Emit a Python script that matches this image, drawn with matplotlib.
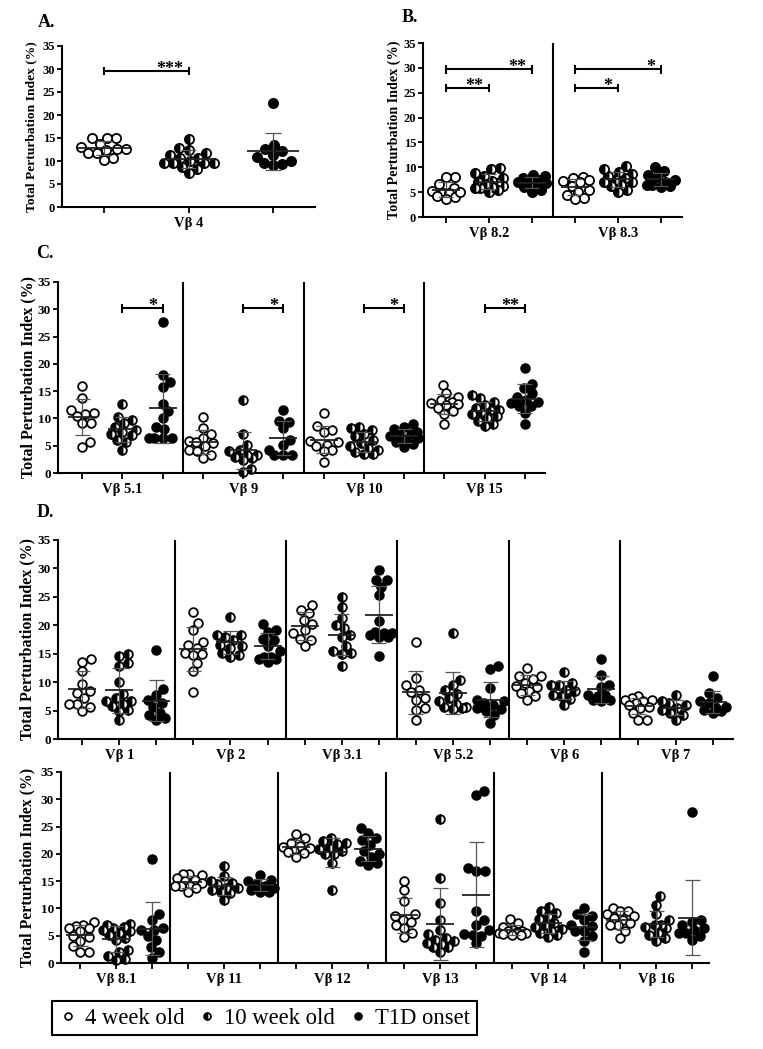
import numpy as np
import matplotlib
matplotlib.use('Agg')
import matplotlib.pyplot as plt
from matplotlib.lines import Line2D

plt.rcParams['font.family'] = ['Liberation Serif', 'DejaVu Serif']

# ---------------- data ----------------
groups = ['4 week old', '10 week old', 'T1D onset']
ylabel = 'Total Perturbation Index (%)'
yticks = [0, 5, 10, 15, 20, 25, 30, 35]

A_labels = ['Vβ 4']
A_wk4 = [[15.0, 14.9, 14.9, 13.7, 13.0, 12.6, 12.3, 12.6, 11.7, 11.8, 10.7, 10.3]]
A_wk10 = [[14.8, 12.8, 12.5, 11.8, 11.4, 10.7, 10.6, 9.9, 9.5, 9.5, 9.5, 9.5, 8.8, 8.3, 7.4]]
A_t1d = [[22.6, 13.5, 12.6, 12.1, 11.4, 10.9, 10.0, 9.5, 9.3, 9.2]]
A_sig = [(0, 1, 29.5, '***')]

B_labels = ['Vβ 8.2', 'Vβ 8.3']
B_wk4 = [[8.1, 8.0, 6.6, 5.8, 5.2, 4.9, 4.8, 4.3, 4.1, 3.7, 5.0],
         [8.1, 7.8, 7.5, 7.2, 7.0, 6.3, 5.5, 5.0, 4.5, 3.9, 3.6]]
B_wk10 = [[9.9, 9.6, 8.8, 8.3, 7.8, 7.3, 7.0, 6.8, 6.6, 6.2, 5.8, 5.4, 5.0, 6.0, 5.8],
          [10.2, 9.6, 9.0, 8.7, 8.3, 7.9, 7.5, 7.0, 6.5, 6.2, 5.5, 5.0, 7.0]]
B_t1d = [[8.5, 8.2, 7.8, 7.5, 7.2, 7.0, 6.8, 6.3, 6.0, 5.5, 5.0],
         [10.0, 9.3, 8.5, 8.0, 7.5, 7.0, 6.5, 6.5, 6.2, 6.0]]
B_sig = [(0, 1, 26.0, '**'), (0, 2, 29.7, '**'), (3, 4, 26.0, '*'), (3, 5, 29.7, '*')]

C_labels = ['Vβ 5.1', 'Vβ 9', 'Vβ 10', 'Vβ 15']
C_wk4 = [[15.9, 13.8, 11.6, 11.0, 10.9, 10.4, 9.2, 9.1, 5.7, 4.8],
         [10.3, 8.2, 7.1, 6.4, 5.8, 5.6, 5.5, 4.9, 4.3, 4.0, 3.3, 2.7],
         [11.0, 8.7, 7.8, 7.6, 5.9, 5.6, 5.2, 4.9, 4.3, 4.0, 2.1],
         [16.1, 14.6, 14.0, 13.3, 13.0, 12.8, 12.6, 12.4, 12.0, 11.4, 10.8, 8.9]]
C_wk10 = [[12.6, 10.3, 9.8, 9.1, 8.5, 7.9, 7.5, 7.2, 6.9, 6.1, 5.7, 4.2],
          [13.4, 7.1, 5.2, 4.3, 4.0, 3.3, 3.3, 3.0, 2.7, 2.4, 0.7, 0.1],
          [8.5, 8.2, 7.8, 7.2, 6.8, 6.0, 5.5, 5.0, 4.6, 4.2, 3.8, 3.5, 3.4],
          [14.3, 13.8, 13.0, 12.4, 12.0, 11.6, 11.5, 11.2, 10.9, 10.5, 10.0, 9.6, 9.0, 8.6]]
C_t1d = [[27.6, 18.0, 16.6, 15.8, 12.6, 11.3, 10.0, 8.5, 8.0, 6.4, 6.4, 6.4, 6.4],
         [11.6, 9.6, 9.4, 8.2, 6.1, 5.1, 4.3, 3.3, 3.3, 3.3],
         [8.9, 8.5, 8.0, 7.6, 7.2, 7.0, 6.8, 6.4, 6.0, 5.6, 5.3, 4.8],
         [19.2, 16.3, 15.5, 14.6, 14.0, 13.4, 13.1, 12.8, 12.3, 12.2, 11.0, 8.9]]
C_sig = [(1, 2, 30.2, '*'), (4, 5, 30.2, '*'), (7, 8, 30.2, '*'), (10, 11, 30.2, '**')]

D1_labels = ['Vβ 1', 'Vβ 2', 'Vβ 3.1', 'Vβ 5.2', 'Vβ 6', 'Vβ 7']
D1_wk4 = [[14.0, 13.6, 11.9, 9.7, 8.4, 8.1, 7.2, 6.2, 6.2, 5.7, 4.9],
          [22.4, 20.4, 19.1, 17.1, 16.6, 16.0, 15.1, 14.9, 14.7, 13.3, 11.9, 8.2],
          [23.6, 22.7, 22.1, 20.9, 20.2, 19.2, 18.6, 17.6, 17.4, 16.3],
          [17.0, 10.7, 9.5, 8.7, 8.2, 7.2, 6.9, 5.4, 5.1, 3.4],
          [12.5, 11.0, 11.0, 10.5, 9.8, 9.4, 9.2, 8.4, 8.1, 7.5, 6.9],
          [7.5, 7.2, 6.9, 6.8, 6.6, 6.3, 6.0, 5.7, 5.4, 4.6, 3.4, 3.4]]
D1_wk10 = [[15.0, 14.6, 13.3, 12.9, 10.1, 8.0, 7.2, 6.6, 6.6, 6.2, 5.8, 5.1, 4.9, 3.3],
           [21.4, 18.3, 18.3, 18.0, 17.5, 16.6, 16.3, 16.0, 15.1, 14.8, 14.4],
           [24.9, 23.3, 21.2, 20.1, 19.5, 18.3, 18.0, 16.3, 15.4, 15.1, 15.0, 12.8],
           [18.7, 10.4, 9.5, 8.6, 8.0, 7.2, 6.6, 6.2, 5.7, 5.6, 5.4, 5.2],
           [11.7, 9.9, 9.5, 9.5, 8.7, 8.4, 7.8, 7.5, 7.1, 5.9],
           [7.8, 6.6, 6.3, 5.9, 5.5, 5.1, 4.6, 4.3, 3.4]]
D1_t1d = [[15.6, 8.8, 7.8, 6.9, 6.3, 5.7, 4.6, 4.3, 3.7, 3.4],
          [20.2, 19.2, 18.9, 17.6, 17.4, 16.3, 15.4, 14.5, 14.5, 14.0, 14.0, 13.6],
          [29.8, 28.0, 28.0, 26.8, 25.3, 20.7, 18.9, 18.6, 18.6, 18.3, 18.0, 18.0, 14.6],
          [12.9, 12.3, 9.0, 6.9, 6.6, 6.3, 5.9, 5.4, 5.3, 4.9, 4.3, 2.9],
          [14.0, 11.3, 9.5, 9.2, 7.8, 7.8, 7.5, 6.9, 6.9, 6.6],
          [11.1, 8.1, 7.2, 6.6, 6.3, 5.7, 5.4, 5.1, 4.9, 4.6]]

D2_labels = ['Vβ 8.1', 'Vβ 11', 'Vβ 12', 'Vβ 13', 'Vβ 14', 'Vβ 16']
D2_wk4 = [[7.6, 7.0, 6.8, 6.4, 6.4, 5.9, 4.9, 4.7, 4.0, 3.1, 2.1, 2.1],
          [16.3, 16.2, 16.3, 15.6, 15.3, 15.1, 14.6, 14.2, 14.1, 14.1, 13.7, 13.1],
          [23.6, 22.9, 22.0, 21.5, 21.3, 21.0, 20.5, 20.3, 20.2, 19.5],
          [15.0, 13.3, 11.4, 8.9, 8.7, 7.9, 7.5, 7.0, 6.4, 5.5, 4.7],
          [8.0, 7.4, 6.6, 6.1, 5.9, 5.8, 5.6, 5.5, 5.5, 5.3, 5.2, 5.2],
          [10.1, 9.5, 9.5, 9.0, 8.6, 8.2, 7.9, 7.3, 6.9, 6.9, 5.9, 4.6]]
D2_wk10 = [[7.1, 6.9, 6.6, 6.4, 6.0, 5.8, 5.5, 5.2, 4.6, 4.3, 2.4, 2.1, 1.2, 0.8, 0.6],
           [17.7, 15.9, 15.1, 14.7, 14.4, 13.7, 13.7, 13.4, 13.1, 12.8, 11.6],
           [22.9, 22.3, 22.0, 21.8, 21.1, 20.8, 20.5, 19.9, 19.9, 18.3, 13.4],
           [26.3, 15.6, 11.0, 7.9, 6.1, 5.3, 4.6, 4.2, 4.0, 3.7, 3.5, 3.0, 2.9, 2.1],
           [10.2, 9.6, 9.2, 8.6, 8.0, 7.4, 7.0, 6.6, 6.2, 5.8, 5.5, 5.2, 4.8],
           [12.2, 10.7, 8.9, 7.9, 7.0, 7.0, 6.6, 6.4, 5.5, 5.2, 4.6, 4.1]]
D2_t1d = [[19.1, 9.0, 7.9, 6.4, 6.1, 6.0, 4.9, 4.3, 2.9, 2.0, 0.9],
          [16.2, 15.3, 15.0, 14.4, 14.1, 13.8, 13.4, 13.1, 13.1],
          [24.7, 23.8, 22.9, 22.6, 21.7, 20.5, 19.9, 19.5, 18.6, 18.3, 18.0],
          [31.6, 30.8, 17.5, 16.9, 16.8, 9.5, 7.8, 7.0, 6.0, 5.3, 5.2, 5.0, 3.7],
          [10.1, 9.0, 8.6, 7.9, 7.0, 6.7, 5.8, 5.8, 4.9, 4.0, 2.0],
          [27.6, 7.9, 7.6, 7.0, 6.4, 6.0, 5.5, 5.5, 4.9, 4.3]]

# ---------------- layout ----------------
W, H, DPI = 763, 1049, 100
fig = plt.figure(figsize=(W / DPI, H / DPI), dpi=DPI)

MARKERS = [
    dict(marker='o', mfc='white', mec='black'),
    dict(marker='o', fillstyle='left', mfc='black', mfcalt='white', mec='black'),
    dict(marker='o', mfc='black', mec='black'),
]
MEW = 1.3


def swarm_offsets(ax, xc, vals, diam_px, maxw_px):
    vals = np.asarray(vals, float)
    pts = ax.transData.transform(np.column_stack([np.full(vals.size, xc), vals]))
    ypx = pts[:, 1]
    unit = ax.transData.transform((1, 0))[0] - ax.transData.transform((0, 0))[0]
    dmin = diam_px * 0.85
    order = np.argsort(ypx)
    px_list, py_list = [], []
    out = np.zeros(vals.size)
    for i in order:
        y = ypx[i]
        cands = [0.0]
        for a, b in zip(px_list, py_list):
            dy = abs(y - b)
            if dy < dmin:
                dx = np.sqrt(dmin ** 2 - dy ** 2)
                cands += [a + dx, a - dx]
        cands = sorted(cands, key=abs)
        chosen = None
        for c in cands:
            if abs(c) > maxw_px + 1e-9:
                continue
            if all((c - a) ** 2 + (y - b) ** 2 >= dmin ** 2 - 1e-6 for a, b in zip(px_list, py_list)):
                chosen = c
                break
        if chosen is None:
            grid = np.linspace(-maxw_px, maxw_px, 41)
            pa, pb = np.array(px_list), np.array(py_list)
            chosen = max(grid, key=lambda c: (round(float(np.min(np.hypot(c - pa, y - pb))), 1), -abs(c)))
        px_list.append(chosen)
        py_list.append(y)
        out[i] = chosen / unit
    return out


def panel(box, xlim, labels, g4, g10, gt, sig, diam=11, maxw=14, meanw=14, capw=7.5,
          tick_fs=9.5, cat_fs=10.5, ylab_x=28, ylab_fs=11):
    l, t, r, b = box
    ax = fig.add_axes([l / W, 1 - b / H, (r - l) / W, (b - t) / H])
    ax.set_xlim(*xlim)
    ax.set_ylim(0, 35)
    unit = ax.transData.transform((1, 0))[0] - ax.transData.transform((0, 0))[0]
    ms = (diam - MEW * DPI / 72) * 72 / DPI
    n = len(labels)
    for i in range(n):
        for j, data in enumerate([g4[i], g10[i], gt[i]]):
            xc = 3 * i + j
            offs = swarm_offsets(ax, xc, data, diam, maxw)
            ax.plot(xc + offs, data, linestyle='none', ms=ms, mew=MEW, clip_on=False,
                    zorder=3, **MARKERS[j])
            m = np.mean(data)
            s = np.std(data, ddof=1)
            ax.hlines(m, xc - meanw / unit, xc + meanw / unit, color='#222222', lw=1.3, zorder=5)
            ax.vlines(xc, m - s, m + s, color='#555555', lw=0.9, zorder=4)
            ax.hlines([m - s, m + s], xc - capw / unit, xc + capw / unit, color='#555555', lw=0.9, zorder=4)
    for i in range(1, n):
        ax.axvline(3 * i - 0.5, color='black', lw=1.5, zorder=2)
    for x1, x2, y, stars in sig:
        ax.plot([x1, x2], [y, y], color='black', lw=1.5, solid_capstyle='butt', zorder=6)
        ax.vlines([x1, x2], y - 0.85, y + 0.85, color='black', lw=1.5, zorder=6)
        ax.annotate(stars, (x2, y), xytext=(-4, -2), textcoords='offset points',
                    ha='right', va='baseline', fontsize=13, fontweight='bold', zorder=7)
    for side in ['top', 'right']:
        ax.spines[side].set_visible(False)
    for side in ['left', 'bottom']:
        ax.spines[side].set_linewidth(1.5)
    ax.set_yticks(yticks)
    ax.set_yticklabels([str(v) for v in yticks], fontweight='bold', fontsize=tick_fs)
    ax.set_xticks(range(3 * n))
    ax.set_xticklabels([labels[k // 3] if k % 3 == 1 else '' for k in range(3 * n)],
                       fontweight='bold', fontsize=cat_fs)
    ax.tick_params(axis='y', direction='out', length=3.5, width=1.3, pad=1.5)
    ax.tick_params(axis='x', direction='out', length=4, width=1.3, pad=3)
    fig.text(ylab_x / W, 1 - (t + b) / 2 / H, ylabel, rotation=90, ha='center', va='center',
             fontsize=ylab_fs, fontweight='bold')
    return ax


panel((62, 46, 315, 207), (-0.5, 2.5), A_labels, A_wk4, A_wk10, A_t1d, A_sig,
      diam=11, maxw=27, meanw=26, capw=8, tick_fs=9, ylab_x=31, ylab_fs=9.7)
panel((423, 43, 682, 217), (-0.53, 5.49), B_labels, B_wk4, B_wk10, B_t1d, B_sig,
      diam=11, maxw=14, tick_fs=9, ylab_x=394, ylab_fs=10.2)
panel((58, 282, 545, 473), (-0.6, 11.5), C_labels, C_wk4, C_wk10, C_t1d, C_sig,
      diam=10.5, maxw=14, ylab_x=28, ylab_fs=11.5)
panel((58, 540, 733, 739), (-0.65, 17.55), D1_labels, D1_wk4, D1_wk10, D1_t1d, [],
      diam=10.5, maxw=13.5, ylab_x=27, ylab_fs=11.5)
panel((61, 772, 709, 963), (-0.53, 17.47), D2_labels, D2_wk4, D2_wk10, D2_t1d, [],
      diam=10.5, maxw=13.5, ylab_x=27, ylab_fs=11.3)

for txt, x, y in [('A.', 38, 27), ('B.', 402, 22), ('C.', 36, 258), ('D.', 37, 517)]:
    fig.text(x / W, 1 - y / H, txt, fontsize=13, fontweight='bold', ha='left', va='baseline')

handles = [Line2D([], [], linestyle='none', ms=5, mew=1.2, **mk) for mk in MARKERS]
leg = fig.legend(handles, groups, loc='center', bbox_to_anchor=(264.5 / W, 1 - 1018 / H),
                 ncol=3, frameon=True, fancybox=False, edgecolor='black', fontsize=16.3,
                 handlelength=0.8, handletextpad=0.35, columnspacing=0.6, borderpad=0.3,
                 borderaxespad=0)
leg.get_frame().set_linewidth(1.5)
leg.get_frame().set_alpha(None)

fig.savefig('out.png', dpi=DPI)
